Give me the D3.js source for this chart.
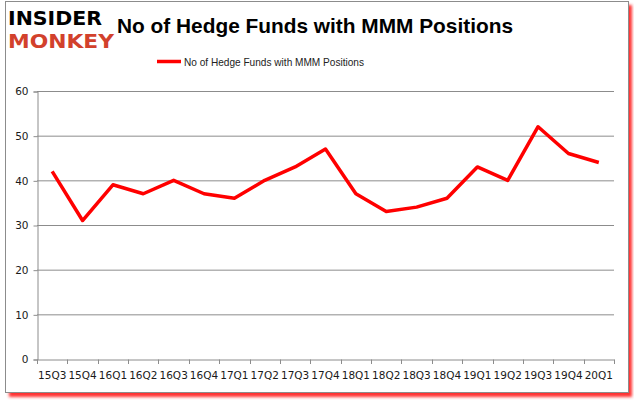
<!DOCTYPE html>
<meta charset="utf-8">
<style>
body { margin: 0; background: #fff; }
text { font-family: "Liberation Sans", Arial, sans-serif; }
</style>
<body>
<script src="https://cdn.jsdelivr.net/npm/d3@7"></script>
<script>

var quarters = ["15Q3","15Q4","16Q1","16Q2","16Q3","16Q4","17Q1","17Q2","17Q3","17Q4",
                "18Q1","18Q2","18Q3","18Q4","19Q1","19Q2","19Q3","19Q4","20Q1"];
var funds = [42, 31, 39, 37, 40, 37, 36, 40, 43, 47, 37, 33, 34, 36, 43, 40, 52, 46, 44];
var yTicks = [0, 10, 20, 30, 40, 50, 60];
var title = "No of Hedge Funds with MMM Positions";

var W = 634, H = 404;
var margin = {top: 91, right: 20, bottom: 45, left: 37};

var svg = d3.select("body").append("svg")
    .attr("width", W)
    .attr("height", H);

var defs = svg.append("defs");
var blur = defs.append("filter").attr("id", "shadow")
    .attr("x", "-5%").attr("y", "-5%").attr("width", "110%").attr("height", "115%");
blur.append("feGaussianBlur").attr("stdDeviation", 1.5);

// frame with red shadow
svg.append("rect")
    .attr("x", 9).attr("y", 5).attr("width", 623).attr("height", 392)
    .attr("fill", "#ff3030").attr("filter", "url(#shadow)");
svg.append("rect")
    .attr("x", 5.5).attr("y", 1.5).attr("width", 623).attr("height", 391)
    .attr("fill", "#fff").attr("stroke", "#8c8c8c").attr("stroke-width", 1);

var x = d3.scaleBand()
    .domain(quarters)
    .range([margin.left, 614]);
var y = d3.scaleLinear()
    .domain([0, 60])
    .range([359, margin.top]);

// gridlines
svg.append("g").selectAll("line")
    .data(yTicks.slice(1))
    .enter().append("line")
    .attr("x1", margin.left).attr("x2", 614)
    .attr("y1", function(d) { return y(d) + 0.5; })
    .attr("y2", function(d) { return y(d) + 0.5; })
    .attr("stroke", "#8c8c8c");

// y axis
var yAxis = svg.append("g")
    .attr("transform", "translate(" + (margin.left + 0.5) + ",0.5)")
    .call(d3.axisLeft(y).tickValues(yTicks).tickSize(4).tickPadding(5));
yAxis.select(".domain").attr("stroke", "#8c8c8c");
yAxis.selectAll(".tick line").attr("stroke", "#8c8c8c");
yAxis.selectAll("text").attr("fill", "#1a1a1a")
    .style("font-family", "'DejaVu Sans', sans-serif").attr("font-size", 10.5);

// x axis
var xAxis = svg.append("g")
    .attr("transform", "translate(0," + (359.5) + ")")
    .call(d3.axisBottom(x).tickSize(0).tickPadding(10));
xAxis.select(".domain").attr("stroke", "#8c8c8c");
xAxis.selectAll("text").attr("fill", "#1a1a1a")
    .style("font-family", "'DejaVu Sans', sans-serif").attr("font-size", 10.5)
    .attr("dy", "0.9em");
// band boundary ticks
svg.append("g").selectAll("line")
    .data(quarters.concat(["end"]))
    .enter().append("line")
    .attr("x1", function(d, i) { return Math.round(x.range()[0] + i * x.step()) + 0.5; })
    .attr("x2", function(d, i) { return Math.round(x.range()[0] + i * x.step()) + 0.5; })
    .attr("y1", 359.5).attr("y2", 364)
    .attr("stroke", "#8c8c8c");

// line
var line = d3.line()
    .x(function(d, i) { return x(quarters[i]) + x.bandwidth() / 2; })
    .y(function(d) { return y(d); });
svg.append("path")
    .datum(funds)
    .attr("d", line)
    .attr("fill", "none")
    .attr("stroke", "#ff0000")
    .attr("stroke-width", 3.5)
    .attr("stroke-linejoin", "round");

// title
svg.append("text")
    .attr("x", 117).attr("y", 33)
    .attr("font-size", 21).attr("font-weight", "bold")
    .attr("textLength", 396).attr("lengthAdjust", "spacingAndGlyphs")
    .text(title);

// legend
svg.append("line")
    .attr("x1", 157).attr("x2", 181).attr("y1", 61.5).attr("y2", 61.5)
    .attr("stroke", "#ff0000").attr("stroke-width", 3.5);
svg.append("text")
    .attr("x", 184).attr("y", 65.5)
    .attr("font-size", 11).attr("fill", "#222")
    .attr("textLength", 180).attr("lengthAdjust", "spacingAndGlyphs")
    .text(title);

// logo
svg.append("text")
    .attr("x", 8).attr("y", 25)
    .attr("font-size", 20).attr("font-weight", "bold")
    .style("font-family", "'DejaVu Sans', sans-serif")
    .attr("textLength", 94).attr("lengthAdjust", "spacingAndGlyphs")
    .text("INSIDER");
svg.append("text")
    .attr("x", 8).attr("y", 48)
    .attr("font-size", 20).attr("font-weight", "bold")
    .attr("fill", "#d2412c")
    .style("font-family", "'DejaVu Sans', sans-serif")
    .attr("textLength", 106).attr("lengthAdjust", "spacingAndGlyphs")
    .text("MONKEY");

</script>
</body>
